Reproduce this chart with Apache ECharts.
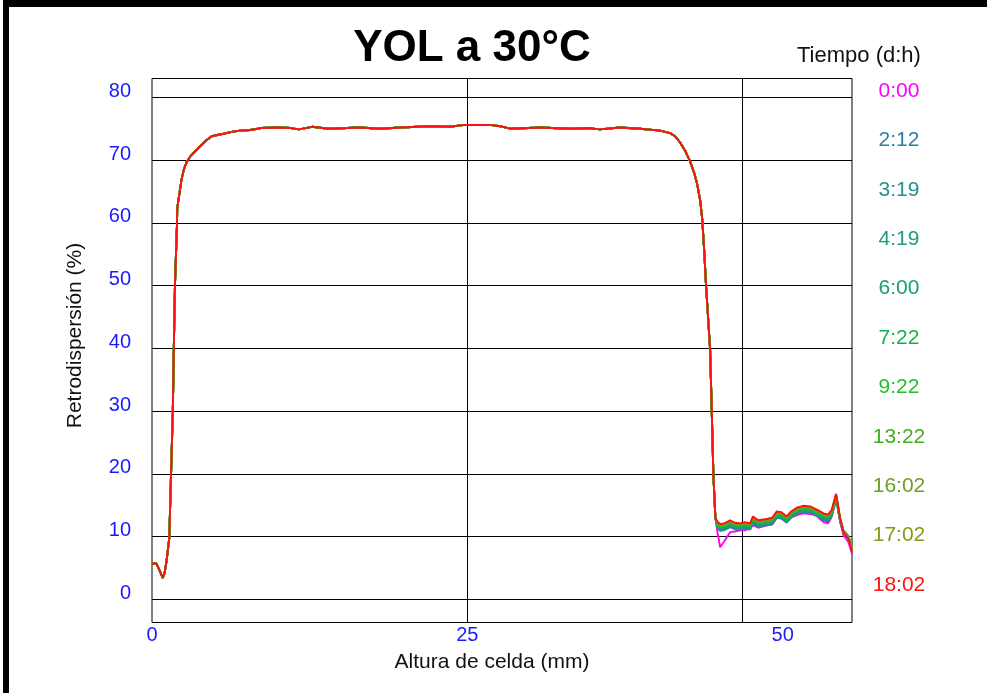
<!DOCTYPE html>
<html><head><meta charset="utf-8">
<script src="https://cdn.jsdelivr.net/npm/echarts@6/dist/echarts.min.js"></script>
<style>html,body{margin:0;padding:0;background:#fff}#c{width:987px;height:693px}</style>
</head><body><div id="c"></div>
<script>
const chartTitle = 'YOL a 30°C';
const legendTitle = 'Tiempo (d:h)';
const xAxisName = 'Altura de celda (mm)';
const yAxisName = 'Retrodispersión (%)';
const seriesNames = ['0:00','2:12','3:19','4:19','6:00','7:22','9:22','13:22','16:02','17:02','18:02'];
const seriesColors = ['#ff00ff','#2a7fa8','#25908f','#1f9a84','#17a06a','#14b24e','#22c02c','#42ae20','#6aa024','#889818','#ff1010'];
const xTickLabels = [0, 25, 50];
const yTickLabels = [0, 10, 20, 30, 40, 50, 60, 70, 80];
const xMarkerLines = [25, 46.8];

// shared part of all profiles (curves overlap here)
const frontX = [0, 0.35, 0.6, 0.85, 1.0, 1.16, 1.37, 1.51, 1.65, 1.73, 1.82, 1.98, 2.0, 2.17, 2.35, 2.54, 2.75, 3.01, 3.41, 3.81, 4.34, 4.73, 5.65, 6.32, 6.98, 7.8, 8.64, 9.99, 11.0, 11.66, 12.69, 14.0, 15.46, 16.5, 18.1, 19.67, 22.05, 23.6, 24.8, 26.8, 27.6, 28.4, 30.8, 33.1, 34.7, 35.5, 37.1, 38.7, 40.29, 41.08, 41.48, 41.87, 42.27, 42.66, 42.98, 43.22, 43.46, 43.62, 43.78, 43.93, 44.25, 44.38, 44.51, 44.67];
const frontY = [5.7, 5.7, 4.6, 3.4, 4.2, 6.2, 9.8, 20, 30, 40, 50, 59.7, 62.3, 64.6, 67.0, 68.6, 69.7, 70.5, 71.4, 72.2, 73.2, 73.8, 74.2, 74.5, 74.7, 74.8, 75.1, 75.2, 75.1, 74.9, 75.3, 75.0, 75.1, 75.2, 75.0, 75.2, 75.4, 75.3, 75.6, 75.6, 75.4, 75.0, 75.2, 75.0, 75.1, 74.9, 75.2, 75.0, 74.7, 74.3, 73.8, 72.8, 71.5, 69.8, 68.0, 66.2, 63.6, 60.7, 55.6, 49.9, 39.8, 30.0, 19.8, 12.9];

// upper zone where the profiles separate
const tailX = [44.85, 45.05, 45.36, 45.84, 46.2, 46.63, 47.0, 47.42, 47.65, 48.06, 48.75, 49.17, 49.54, 49.88, 50.33, 50.67, 51.13, 51.63, 52.18, 52.71, 52.97, 53.24, 53.61, 53.9, 54.24, 54.56, 54.82, 55.22, 55.5];
const tail_0_00 = [10.5, 8.3, 9.2, 10.7, 10.8, 11.0, 11.0, 11.3, 11.8, 11.4, 11.8, 11.9, 13.0, 12.9, 12.4, 13.0, 13.4, 13.7, 13.6, 13.3, 12.8, 12.3, 12.1, 13.2, 16.0, 12.3, 10.2, 9.1, 7.2];
const tail_2_12 = [11.3, 10.9, 11.0, 11.5, 11.2, 11.1, 11.3, 11.1, 12.1, 11.6, 11.8, 12.0, 13.0, 12.9, 12.2, 13.0, 13.6, 13.9, 13.8, 13.3, 13.0, 12.6, 12.4, 13.3, 16.0, 12.4, 10.6, 9.6, 7.6];
const tail_3_19 = [11.4, 11.1, 11.2, 11.7, 11.3, 11.2, 11.4, 11.2, 12.3, 11.7, 11.9, 12.1, 13.1, 13.0, 12.3, 13.1, 13.7, 14.0, 13.9, 13.4, 13.1, 12.8, 12.6, 13.4, 16.1, 12.5, 10.8, 9.8, 7.9];
const tail_4_19 = [11.5, 11.2, 11.3, 11.8, 11.4, 11.3, 11.5, 11.3, 12.4, 11.8, 12.0, 12.2, 13.2, 13.1, 12.4, 13.2, 13.8, 14.1, 14.0, 13.5, 13.2, 12.9, 12.7, 13.5, 16.1, 12.6, 10.9, 9.9, 8.0];
const tail_6_00 = [11.6, 11.3, 11.4, 11.9, 11.5, 11.4, 11.6, 11.4, 12.5, 11.9, 12.1, 12.3, 13.3, 13.2, 12.5, 13.3, 13.9, 14.2, 14.1, 13.6, 13.3, 13.0, 12.8, 13.6, 16.2, 12.6, 11.0, 10.0, 8.1];
const tail_7_22 = [11.8, 11.5, 11.6, 12.1, 11.7, 11.6, 11.8, 11.6, 12.7, 12.1, 12.3, 12.5, 13.5, 13.4, 12.7, 13.5, 14.1, 14.4, 14.3, 13.8, 13.5, 13.2, 13.0, 13.8, 16.3, 12.7, 11.0, 10.1, 8.2];
const tail_9_22 = [11.9, 11.6, 11.7, 12.2, 11.8, 11.7, 11.9, 11.7, 12.8, 12.2, 12.4, 12.6, 13.6, 13.5, 12.8, 13.6, 14.2, 14.5, 14.4, 13.9, 13.6, 13.3, 13.1, 13.9, 16.4, 12.7, 10.9, 10.0, 8.1];
const tail_13_22 = [12.0, 11.7, 11.8, 12.3, 11.9, 11.8, 12.0, 11.8, 12.9, 12.3, 12.5, 12.7, 13.7, 13.6, 12.9, 13.7, 14.3, 14.6, 14.5, 14.0, 13.7, 13.4, 13.2, 14.0, 16.5, 12.8, 10.9, 9.9, 8.0];
const tail_16_02 = [12.1, 11.8, 11.9, 12.4, 12.0, 11.9, 12.1, 11.9, 13.0, 12.4, 12.6, 12.8, 13.8, 13.7, 13.0, 13.8, 14.4, 14.7, 14.6, 14.1, 13.8, 13.5, 13.3, 14.1, 16.6, 12.8, 10.8, 9.8, 7.9];
const tail_17_02 = [12.2, 11.9, 12.0, 12.5, 12.1, 12.0, 12.2, 12.0, 13.1, 12.5, 12.7, 12.9, 13.9, 13.8, 13.1, 13.9, 14.5, 14.8, 14.7, 14.2, 13.9, 13.6, 13.4, 14.2, 16.7, 12.9, 10.8, 9.7, 7.8];
const tail_18_02 = [12.3, 12.0, 12.1, 12.6, 12.2, 12.1, 12.3, 12.1, 13.2, 12.6, 12.8, 13.0, 14.0, 13.9, 13.2, 14.0, 14.6, 14.9, 14.8, 14.3, 14.0, 13.7, 13.5, 14.3, 16.8, 12.9, 10.7, 9.6, 7.7];
const tails = [tail_0_00, tail_2_12, tail_3_19, tail_4_19, tail_6_00, tail_7_22, tail_9_22, tail_13_22, tail_16_02, tail_17_02, tail_18_02];

const font = 'Liberation Sans, Arial, sans-serif';
const tickBlue = '#1a1aff';

const chart = echarts.init(document.getElementById('c'), null, {renderer: 'canvas'});

const series = seriesNames.map((name, i) => ({
  name: name,
  type: 'line',
  showSymbol: false,
  symbol: 'none',
  animation: false,
  color: seriesColors[i],
  lineStyle: {width: 1.9, color: seriesColors[i]},
  z: 3 + i,
  data: frontX.map((x, j) => [x, frontY[j]]).concat(tailX.map((x, j) => [x, tails[i][j]]))
}));

chart.setOption({
  backgroundColor: '#fff',
  animation: false,
  title: {
    text: chartTitle,
    left: 467, top: 22, textAlign: 'center',
    textStyle: {fontFamily: font, fontSize: 44, fontWeight: 'bold', color: '#000'}
  },
  graphic: [
    {type: 'rect', shape: {x: 3, y: 0, width: 984, height: 7}, style: {fill: '#000'}},
    {type: 'rect', shape: {x: 3, y: 0, width: 6, height: 693}, style: {fill: '#000'}},
    {type: 'text', left: 797, top: 45, style: {text: legendTitle, fontFamily: font, fontSize: 22, fill: '#111'}}
  ],
  legend: {
    orient: 'vertical',
    left: 858, top: 75,
    icon: 'none',
    itemWidth: 0, itemHeight: 22,
    itemGap: 27.4,
    selectedMode: false,
    formatter: '{c|{name}}',
    textStyle: {fontFamily: font, fontSize: 21, lineHeight: 22,
      rich: {c: {width: 62, align: 'center', fontFamily: font, fontSize: 21}}},
    data: seriesNames.map((n, i) => ({name: n, textStyle: {color: seriesColors[i]}}))
  },
  grid: {
    left: 152, top: 78.5, width: 700, height: 544,
    show: true, borderColor: '#000', borderWidth: 1, backgroundColor: 'transparent',
    containLabel: false
  },
  xAxis: {
    type: 'value', min: 0, max: 55.5,
    name: xAxisName, nameLocation: 'middle', nameGap: 29,
    nameTextStyle: {fontFamily: font, fontSize: 21, color: '#111', padding: [0, 20, 0, 0]},
    axisLine: {show: false},
    axisTick: {show: false, customValues: xMarkerLines},
    axisLabel: {customValues: xTickLabels, color: tickBlue, fontFamily: font, fontSize: 20, margin: 3},
    splitLine: {show: true, lineStyle: {color: '#000', width: 1}}
  },
  yAxis: {
    type: 'value', min: -3.7, max: 83,
    name: yAxisName, nameLocation: 'middle', nameGap: 66,
    nameRotate: 90,
    nameTextStyle: {fontFamily: font, fontSize: 21, color: '#111', padding: [0, 0, 0, 30]},
    axisLine: {show: false},
    axisTick: {show: false, customValues: yTickLabels},
    axisLabel: {customValues: yTickLabels, color: tickBlue, fontFamily: font, fontSize: 20, margin: 21,
      verticalAlign: 'bottom', lineHeight: 12},
    splitLine: {show: true, lineStyle: {color: '#000', width: 1}}
  },
  series: series
});
</script>
</body></html>
